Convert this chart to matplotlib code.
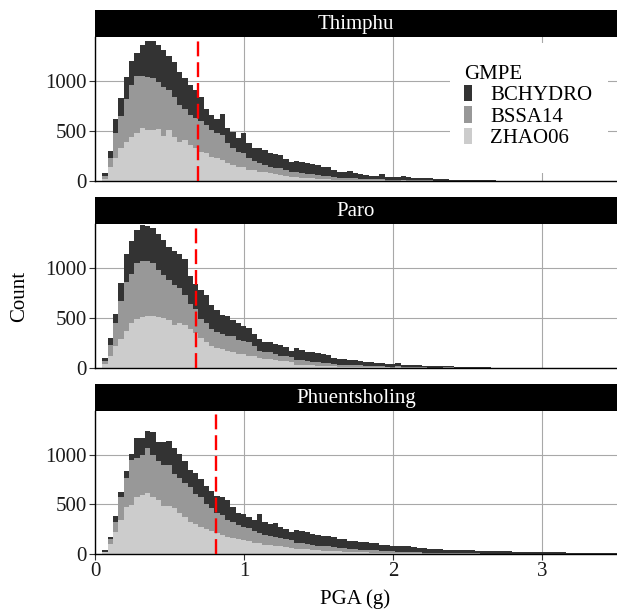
import numpy as np
import matplotlib
matplotlib.use("Agg")
import matplotlib.pyplot as plt
from matplotlib.patches import Patch, Rectangle

plt.rcParams['font.family'] = ['Liberation Serif', 'DejaVu Serif']

## Histogram bins (PGA in g)
bin_start = 0.05
bin_width = 0.0357
n_bins = 100

sites = ['Thimphu', 'Paro', 'Phuentsholing']
gmpes = ['BCHYDRO', 'BSSA14', 'ZHAO06']
colours = {'BCHYDRO': '#333333', 'BSSA14': '#989898', 'ZHAO06': '#CCCCCC'}
median_pga = [0.69, 0.676, 0.808]

## Counts per bin, bins past the end of a list are empty
thimphu_bchydro = [25, 73, 140, 183, 226, 243, 224, 307, 357, 373, 367, 367, 343, 350, 333, 307, 300, 283,
                   240, 160, 150, 143, 207, 150, 160, 134, 200, 150, 133, 150, 150, 134, 134, 133, 110, 94,
                   115, 110, 105, 100, 100, 90, 88, 70, 60, 60, 65, 55, 47, 40, 36, 36, 50, 30, 30, 30, 38,
                   26, 24, 24, 20, 20, 15, 15, 13, 10, 10, 8, 8, 6, 7, 6, 5, 5, 4, 4, 3, 3, 3, 3, 3, 2, 2,
                   3, 2, 2, 1, 2, 1, 1, 1, 1, 0, 1, 0, 1]
thimphu_bssa14 = [35, 84, 244, 323, 424, 517, 576, 526, 533, 517, 473, 490, 400, 400, 367, 310, 300, 300,
                  307, 283, 267, 250, 250, 200, 167, 150, 134, 117, 90, 84, 73, 66, 66, 67, 57, 50,
                  50, 48, 42, 40, 37, 33, 30, 25, 20, 20, 20, 17, 14, 12, 10, 10, 12, 8, 8, 8, 9, 7, 6, 6,
                  5, 5, 4, 4, 3, 2, 2, 2, 2, 2, 2, 1, 1, 1, 1, 1, 1, 1, 0, 1]
thimphu_zhao06 = [20, 143, 233, 327, 393, 443, 477, 527, 510, 510, 520, 453, 510, 443, 393, 410, 360, 327,
                  293, 277, 243, 227, 210, 177, 160, 143, 143, 110, 110, 93, 87, 77, 67, 60, 53, 43,
                  38, 35, 30, 27, 23, 20, 19, 15, 13, 13, 12, 11, 9, 8, 7, 7, 8, 5, 5, 5, 6, 4, 3, 3, 2, 2,
                  1, 1, 1, 1, 1]

paro_bchydro = [30, 75, 98, 180, 279, 328, 328, 361, 351, 348, 361, 351, 334, 337, 344, 361, 278, 250,
                288, 285, 246, 223, 196, 197, 164, 170, 148, 147, 115, 115, 105, 105, 98, 105, 89, 66,
                112, 103, 95, 92, 87, 82, 78, 62, 55, 56, 50, 48, 46, 40, 38, 34, 30, 28, 27, 36, 20, 20,
                18, 19, 14, 12, 12, 12, 14, 17, 9, 7, 6, 7, 5, 5, 5, 4, 4, 3, 3, 2, 2, 3, 2, 2, 2, 2, 1,
                2, 1, 1, 1, 1, 0, 1, 0, 1]
paro_bssa14 = [30, 105, 223, 377, 492, 492, 557, 558, 551, 524, 466, 426, 400, 404, 351, 305, 253, 242,
               187, 190, 171, 164, 148, 147, 164, 141, 131, 131, 105, 76, 65, 65, 56, 50, 52, 49,
               50, 45, 40, 38, 35, 32, 30, 24, 20, 20, 18, 17, 16, 14, 13, 12, 10, 9, 8, 11, 6, 6, 6, 5,
               4, 3, 3, 3, 4, 4, 2, 2, 1, 1, 1, 1, 1, 1, 1, 1]
paro_zhao06 = [40, 125, 223, 289, 370, 452, 492, 511, 518, 525, 511, 502, 479, 426, 446, 426, 387, 348,
               305, 256, 216, 197, 190, 174, 157, 141, 141, 125, 118, 98, 92, 92, 85, 75, 66, 59,
               35, 32, 28, 27, 25, 23, 22, 17, 15, 14, 12, 12, 11, 9, 9, 7, 7, 6, 5, 6, 4, 4, 3, 3, 2, 2,
               2, 2, 2, 2, 2, 1, 1, 1, 1]

phuent_bchydro = [15, 17, 56, 50, 73, 59, 204, 171, 165, 224, 198, 231, 243, 263, 240, 214, 171, 214,
                  181, 181, 165, 175, 188, 204, 148, 121, 131, 115, 115, 190, 132, 125, 145, 115, 99, 79,
                  128, 121, 118, 108, 105, 103, 106, 97, 87, 90, 80, 78, 78, 75, 72, 71, 62, 61, 57, 58,
                  60, 57, 49, 44, 45, 39, 38, 36, 33, 34, 31, 33, 31, 30, 29, 28, 28, 26, 26, 24, 25, 23,
                  23, 21, 20, 20, 19, 18, 17, 16, 16, 15, 15, 14, 13, 12, 12, 11, 10, 10, 9, 9, 8, 8]
phuent_bssa14 = [5, 46, 109, 230, 289, 461, 388, 401, 460, 428, 388, 421, 415, 336, 356, 345, 345, 302,
                 296, 257, 240, 203, 197, 174, 165, 142, 132, 132, 115, 99, 99, 83, 92, 82, 79, 76,
                 60, 56, 53, 50, 47, 45, 44, 40, 36, 35, 31, 29, 27, 25, 23, 22, 19, 18, 16, 16, 15, 13,
                 12, 10, 10, 9, 8, 7, 7, 6, 6, 5, 5, 4, 4, 4, 3, 3, 3, 3, 2, 2, 2, 2, 2, 1, 1, 1, 1, 1]
phuent_zhao06 = [20, 105, 217, 342, 474, 490, 579, 599, 612, 572, 546, 480, 480, 467, 414, 375, 326, 303,
                 276, 250, 227, 211, 194, 168, 161, 151, 138, 128, 112, 112, 95, 95, 79, 79, 72, 62,
                 55, 50, 46, 42, 38, 35, 33, 30, 27, 25, 22, 20, 18, 17, 15, 14, 12, 11, 10, 9, 8, 7, 6,
                 6, 5, 5, 4, 4, 3, 3, 3, 2, 2, 2, 2, 1, 1, 1, 1, 1]

counts = {
    'Thimphu': {'BCHYDRO': thimphu_bchydro, 'BSSA14': thimphu_bssa14, 'ZHAO06': thimphu_zhao06},
    'Paro': {'BCHYDRO': paro_bchydro, 'BSSA14': paro_bssa14, 'ZHAO06': paro_zhao06},
    'Phuentsholing': {'BCHYDRO': phuent_bchydro, 'BSSA14': phuent_bssa14, 'ZHAO06': phuent_zhao06},
}


def pad(v):
    v = np.asarray(v, dtype=float)[:n_bins]
    return np.pad(v, (0, n_bins - len(v)))


edges = bin_start + bin_width * np.arange(n_bins + 1)

W, H = 617, 615
fig = plt.figure(figsize=(W / 100, H / 100), dpi=100)


def frac(x0, y0, x1, y1):
    """ pixel box (top-left origin) -> figure fraction """
    return [x0 / W, 1 - y1 / H, (x1 - x0) / W, (y1 - y0) / H]


panel_px = [(37, 181), (224, 368), (411, 554)]
fs = 15
axes = []
for i, site in enumerate(sites):
    top, bot = panel_px[i]
    ax = fig.add_axes(frac(95, top, 617, bot))
    strip = fig.add_axes(frac(95, top - 27, 617, top))
    strip.set_facecolor('black')
    strip.set_xticks([]); strip.set_yticks([])
    for s in strip.spines.values():
        s.set_visible(False)
    strip.text(0.5, 0.47, site, color='white', fontsize=fs, ha='center', va='center',
               transform=strip.transAxes)

    ## stacked histogram: ZHAO06 at bottom, BCHYDRO on top
    base = np.zeros(n_bins)
    for g in ['ZHAO06', 'BSSA14', 'BCHYDRO']:
        v = pad(counts[site][g])
        ax.stairs(base + v, edges, baseline=base.copy(), fill=True, color=colours[g], lw=0)
        base = base + v

    ax.axvline(median_pga[i], color='#FF0000', lw=1.7, ls=(0, (6.3, 2.5)), zorder=3)

    ax.set_xlim(0, 3.5)
    ax.set_ylim(0, 1440)
    ax.set_xticks([0, 1, 2, 3])
    ax.set_yticks([0, 500, 1000])
    ax.grid(True, color='#a8a8a8', lw=0.8)
    ax.set_axisbelow(True)
    for s in ['top', 'right']:
        ax.spines[s].set_visible(False)
    for s in ['left', 'bottom']:
        ax.spines[s].set_color('black')
        ax.spines[s].set_linewidth(1.0)
    ax.tick_params(axis='y', length=4, width=0.8, color='#333333', labelsize=fs, pad=2,
                   labelcolor='#1a1a1a')
    if i < 2:
        ax.tick_params(axis='x', length=0, labelbottom=False)
    else:
        ax.tick_params(axis='x', length=4, width=0.8, color='#333333', labelsize=fs, pad=2,
                       labelcolor='#1a1a1a')
    axes.append(ax)

## legend: white box inside the top panel
ax = axes[0]
ax.add_patch(Rectangle((0.68, 0.056), 0.303, 0.902, transform=ax.transAxes,
                       facecolor='white', edgecolor='none', zorder=4))
handles = [Patch(facecolor=colours[g], edgecolor='none') for g in gmpes]
leg = ax.legend(handles, gmpes, title='GMPE', loc='upper left', bbox_to_anchor=(0.663, 0.965),
                fontsize=fs, title_fontsize=fs, frameon=False, handlelength=0.36,
                handleheight=0.82, handletextpad=0.9, labelspacing=0.05, borderpad=0.6,
                alignment='left')
leg.set_zorder(5)

fig.text(20 / W, 1 - 296 / H, 'Count', rotation=90, fontsize=fs, ha='center', va='center')
fig.text(355 / W, 1 - 599 / H, 'PGA (g)', fontsize=fs, ha='center', va='center')

fig.savefig('out.png', dpi=100)
